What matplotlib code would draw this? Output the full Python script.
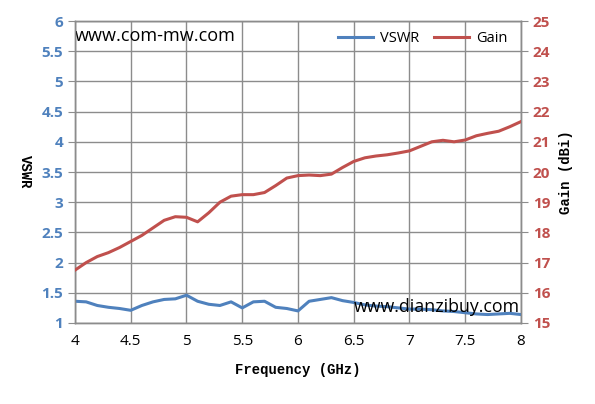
import matplotlib.pyplot as plt

# Fréquences (GHz)
freq = [4.0, 4.1, 4.2, 4.3, 4.4, 4.5, 4.6, 4.7, 4.8, 4.9,
        5.0, 5.1, 5.2, 5.3, 5.4, 5.5, 5.6, 5.7, 5.8, 5.9,
        6.0, 6.1, 6.2, 6.3, 6.4, 6.5, 6.6, 6.7, 6.8, 6.9,
        7.0, 7.1, 7.2, 7.3, 7.4, 7.5, 7.6, 7.7, 7.8, 7.9, 8.0]

vswr = [1.36, 1.35, 1.29, 1.26, 1.24, 1.21, 1.29, 1.35, 1.39, 1.40,
        1.46, 1.36, 1.31, 1.29, 1.35, 1.25, 1.35, 1.36, 1.26, 1.24,
        1.20, 1.36, 1.39, 1.42, 1.37, 1.34, 1.30, 1.28, 1.27, 1.25,
        1.23, 1.23, 1.22, 1.20, 1.19, 1.17, 1.15, 1.14, 1.15, 1.16, 1.14]

gain = [16.75, 17.0, 17.2, 17.33, 17.5, 17.7, 17.9, 18.15, 18.4, 18.52,
        18.5, 18.35, 18.65, 19.0, 19.2, 19.25, 19.25, 19.32, 19.55, 19.8,
        19.88, 19.9, 19.88, 19.93, 20.15, 20.35, 20.47, 20.53, 20.57, 20.63,
        20.7, 20.85, 21.0, 21.05, 21.0, 21.06, 21.2, 21.28, 21.35, 21.5, 21.67]

x_ticks = [4, 4.5, 5, 5.5, 6, 6.5, 7, 7.5, 8]
x_labels = ['4', '4.5', '5', '5.5', '6', '6.5', '7', '7.5', '8']
vswr_ticks = [1, 1.5, 2, 2.5, 3, 3.5, 4, 4.5, 5, 5.5, 6]
vswr_labels = ['1', '1.5', '2', '2.5', '3', '3.5', '4', '4.5', '5', '5.5', '6']
gain_ticks = [15, 16, 17, 18, 19, 20, 21, 22, 23, 24, 25]

bleu = '#4F81BD'
rouge = '#C0504D'
gris = '#8C8C8C'

fig = plt.figure(figsize=(5.95, 4.04), dpi=100)
ax = fig.add_axes([0.126, 0.2005, 0.7496, 0.7475])
ax2 = ax.twinx()

l1, = ax.plot(freq, vswr, color=bleu, lw=2.2, label='VSWR', zorder=3)
l2, = ax2.plot(freq, gain, color=rouge, lw=2.2, label='Gain', zorder=3)

ax.set_xticks(x_ticks)
ax.set_xticklabels(x_labels)
ax.set_yticks(vswr_ticks)
ax.set_yticklabels(vswr_labels)
ax2.set_yticks(gain_ticks)
ax2.set_yticklabels([str(g) for g in gain_ticks])
ax.set_xlim(4, 8)
ax.set_ylim(1, 6)
ax2.set_ylim(15, 25)

ax.grid(True, color=gris, lw=1)
for a in (ax, ax2):
    for s in a.spines.values():
        s.set_color(gris)
        s.set_linewidth(1)

ax.tick_params(axis='x', length=0, pad=8, labelsize=11, labelcolor='black')
ax.tick_params(axis='y', length=5, color=gris, labelsize=11, labelcolor=bleu)
ax2.tick_params(axis='y', length=5, color=gris, labelsize=11, labelcolor=rouge)
for t in ax.get_yticklabels() + ax2.get_yticklabels():
    t.set_fontweight('bold')
    t.set_family('Open Sans')
for t in ax.get_xticklabels():
    t.set_family('Open Sans')

ax.set_xlabel('Frequency (GHz)', family='Liberation Mono', fontweight='bold',
              fontsize=10, labelpad=10)
ax.set_ylabel('VSWR', family='Liberation Mono', fontweight='bold',
              fontsize=10, rotation=-90, va='center', ha='center')
ax.yaxis.set_label_coords(-0.112, 0.5)
ax2.set_ylabel('Gain (dBi)', family='Liberation Mono', fontweight='bold',
               fontsize=10, rotation=90, va='center', ha='center')
ax2.yaxis.set_label_coords(1.1, 0.5)

ax.text(0.0, 0.95, 'www.com-mw.com', transform=ax.transAxes, fontsize=13,
        family='Open Sans', va='center', ha='left')
ax2.text(0.998, 0.053, 'www.dianzibuy.com', transform=ax.transAxes, fontsize=12.8,
         family='Open Sans', va='center', ha='right', zorder=5)

ax2.legend(handles=[l1, l2], loc='upper right', ncol=2, frameon=False,
           prop={'family': 'Open Sans', 'size': 10.5}, handlelength=2.4,
           columnspacing=1.0, handletextpad=0.5, bbox_to_anchor=(1.0, 1.01))

fig.savefig('out.png', dpi=100)
